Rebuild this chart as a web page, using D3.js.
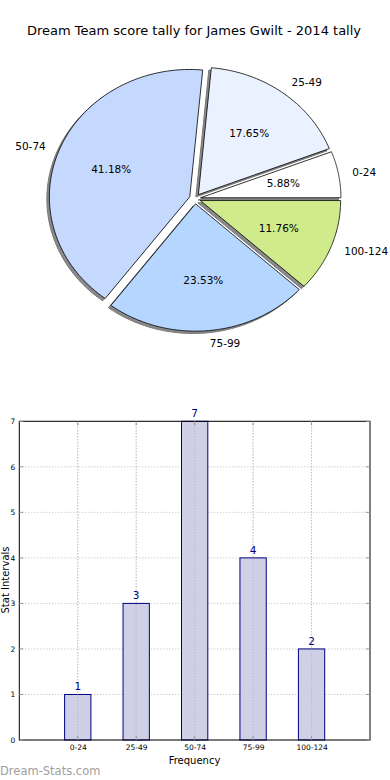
<!DOCTYPE html>
<html><head><meta charset="utf-8">
<script src="https://cdn.jsdelivr.net/npm/d3@7"></script>
<style>body{margin:0;background:#fff}svg{display:block;font-family:"DejaVu Sans",sans-serif}</style>
</head><body>
<svg id="c" width="390" height="780"></svg>
<script>
const title = "Dream Team score tally for James Gwilt - 2014 tally";
const categories = ["0-24","25-49","50-74","75-99","100-124"];
const counts = [1,3,7,4,2];
const pieColors = ["#ffffff","#ebf2ff","#c5d9ff","#b5d6ff","#cfeb8b"];
const yTicks = [0,1,2,3,4,5,6,7];
const xLabel = "Frequency";
const yLabel = "Stat Intervals";
const watermark = "Dream-Stats.com";

const svg = d3.select("#c");
svg.append("text").attr("x",194).attr("y",35).attr("text-anchor","middle")
  .attr("font-size",13).attr("fill","#000").text(title);

// ---- Pie (elliptical, as in the source) ----
const cx = 195, cy = 198.7, Rx = 140.4, Ry = 127.4, explode = 0.04;
const total = d3.sum(counts);
const pieGen = d3.pie().sort(null).value(d=>d).startAngle(Math.PI/2).endAngle(Math.PI/2 - 2*Math.PI);
const arcs = pieGen(counts);
function toMath(a){ return Math.PI/2 - a; }
function wedgePath(d, dx, dy){
  const a0 = toMath(d.startAngle), a1 = toMath(d.endAngle);
  const mid = (a0+a1)/2;
  const ox = explode*Math.cos(mid), oy = explode*Math.sin(mid);
  const n = 80, pts = [];
  pts.push([ox, oy]);
  for(let i=0;i<=n;i++){
    const t = a0 + (a1-a0)*i/n;
    pts.push([ox+Math.cos(t), oy+Math.sin(t)]);
  }
  return "M" + pts.map(p=>[(cx + dx + p[0]*Rx).toFixed(2), (cy + dy - p[1]*Ry).toFixed(2)].join(",")).join("L") + "Z";
}
const gShadow = svg.append("g");
arcs.forEach(d=>{
  gShadow.append("path").attr("d", wedgePath(d,-2.5,2.3)).attr("fill","#8a8a8a").attr("stroke","#777").attr("stroke-width",1);
});
const gPie = svg.append("g");
arcs.forEach((d,i)=>{
  gPie.append("path").attr("d", wedgePath(d,0,0)).attr("fill",pieColors[i]).attr("stroke","#000").attr("stroke-width",0.8);
});
arcs.forEach((d,i)=>{
  const mid = (toMath(d.startAngle)+toMath(d.endAngle))/2;
  const c = Math.cos(mid), s = Math.sin(mid);
  const lx = cx + (1.1+explode)*c*Rx, ly = cy - (1.1+explode)*s*Ry;
  svg.append("text").attr("x",lx).attr("y",ly).attr("dy","0.35em")
    .attr("text-anchor", c>0 ? "start" : "end").attr("font-size",10.5).text(categories[i]);
  const px = cx + (0.6+explode)*c*Rx, py = cy - (0.6+explode)*s*Ry;
  svg.append("text").attr("x",px).attr("y",py).attr("dy","0.35em")
    .attr("text-anchor","middle").attr("font-size",10.5).text((counts[i]/total*100).toFixed(2)+"%");
});

// ---- Bar chart ----
const L = 19.3, Rt = 370, T = 421.3, B = 740;
const x = d3.scaleLinear().domain([-1,5]).range([L,Rt]);
const y = d3.scaleLinear().domain([0,7]).range([B,T]);
const g = svg.append("g");
g.selectAll(".gy").data(yTicks).join("line")
  .attr("x1",L).attr("x2",Rt).attr("y1",d=>y(d)).attr("y2",d=>y(d))
  .attr("stroke","#bbb").attr("stroke-width",1).attr("stroke-dasharray","1,2");
g.selectAll(".gx").data(categories).join("line")
  .attr("x1",(d,i)=>x(i)).attr("x2",(d,i)=>x(i)).attr("y1",T).attr("y2",B)
  .attr("stroke","#bbb").attr("stroke-width",1).attr("stroke-dasharray","1,2");
const bw = 0.45;
g.selectAll(".bar").data(counts).join("rect")
  .attr("x",(d,i)=>x(i-bw/2)).attr("width",x(bw)-x(0))
  .attr("y",d=>y(d)).attr("height",d=>B-y(d))
  .attr("fill","#ccccE5").attr("fill-opacity",0.95).attr("stroke","#000080").attr("stroke-width",1);
g.selectAll(".gx2").data(categories).join("line")
  .attr("x1",(d,i)=>x(i)).attr("x2",(d,i)=>x(i)).attr("y1",T).attr("y2",B)
  .attr("stroke","#aaa").attr("stroke-width",1).attr("stroke-dasharray","1,2").attr("opacity",0.7);
g.selectAll(".vl").data(counts).join("text")
  .attr("x",(d,i)=>x(i)).attr("y",d=>y(d)-4).attr("text-anchor","middle")
  .attr("font-size",10.5).attr("fill","#000080").text(d=>d);
g.append("rect").attr("x",L).attr("y",T).attr("width",Rt-L).attr("height",B-T)
  .attr("fill","none").attr("stroke","#000").attr("stroke-width",1);
const yAxis = d3.axisLeft(y).tickValues(yTicks).tickFormat(d3.format("d")).tickSize(0).tickPadding(4);
const ya = g.append("g").attr("transform",`translate(${L},0)`).call(yAxis);
ya.select(".domain").remove();
ya.selectAll("text").attr("font-size",7.5).attr("font-family","DejaVu Sans").attr("fill","#000");
const xAxis = d3.axisBottom(x).tickValues(d3.range(categories.length)).tickFormat(i=>categories[i]).tickSize(0).tickPadding(5);
const xa = g.append("g").attr("transform",`translate(0,${B})`).call(xAxis);
xa.select(".domain").remove();
xa.selectAll("text").attr("font-size",7.5).attr("font-family","DejaVu Sans").attr("fill","#000");
yTicks.forEach(v=>{
  g.append("line").attr("x1",L).attr("x2",L+4).attr("y1",y(v)).attr("y2",y(v)).attr("stroke","#999");
  g.append("line").attr("x1",Rt-4).attr("x2",Rt).attr("y1",y(v)).attr("y2",y(v)).attr("stroke","#999");
});
categories.forEach((c,i)=>{
  g.append("line").attr("x1",x(i)).attr("x2",x(i)).attr("y1",B).attr("y2",B-4).attr("stroke","#999");
  g.append("line").attr("x1",x(i)).attr("x2",x(i)).attr("y1",T).attr("y2",T+4).attr("stroke","#999");
});
svg.append("text").attr("x",194.5).attr("y",764).attr("text-anchor","middle").attr("font-size",10).text(xLabel);
svg.append("text").attr("transform","translate(8.5,580) rotate(-90)").attr("text-anchor","middle").attr("font-size",10).text(yLabel);
svg.append("text").attr("x",0).attr("y",774.5).attr("font-size",11.5).attr("fill","#a0a0a0").text(watermark);
</script>
</body></html>
